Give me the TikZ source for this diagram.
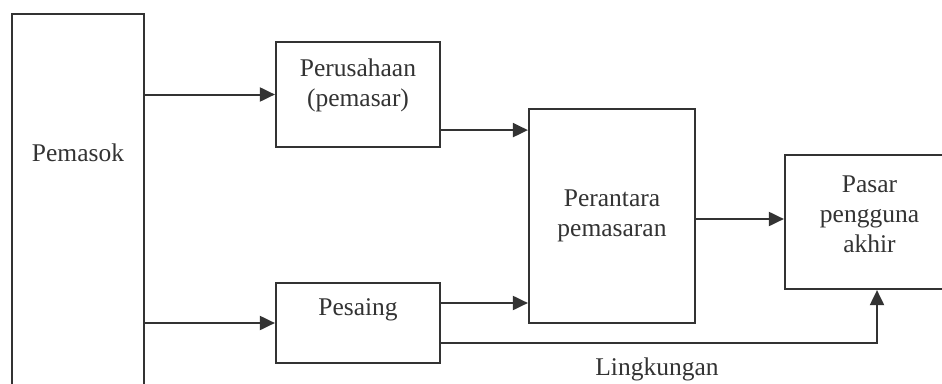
\documentclass[tikz,border=0pt]{standalone}
\usepackage{fontspec}
\setmainfont{Liberation Serif}
\usetikzlibrary{arrows.meta}
\definecolor{ink}{HTML}{333333}
\begin{document}
\begin{tikzpicture}[x=1pt,y=-1pt,
  box/.style={draw=ink,line width=2.2pt,minimum width=#1,inner sep=0pt},
  lbl/.style={text=ink,font=\fontsize{25.5}{30}\selectfont,align=center,inner sep=0pt},
  arr/.style={draw=ink,line width=2pt,-{Triangle[length=15pt,width=14pt]}},
  ln/.style={draw=ink,line width=2pt}]
\useasboundingbox (0,0) rectangle (942,383);
\fill[white] (0,0) rectangle (942,383);
\clip (0,0) rectangle (942,383);
% boxes
\node[box=132pt,minimum height=400pt] (pemasok) at (78,214) {};
\node[box=164pt,minimum height=105pt] (perus) at (358,94.5) {};
\node[box=164pt,minimum height=80pt] (pesaing) at (358,323) {};
\node[box=166pt,minimum height=214pt] (perantara) at (612,216) {};
\node[box=169pt,minimum height=134pt] (pasar) at (869.5,222) {};
% labels
\node[lbl] (pemasoklbl) at (78,153) {Pemasok};
\node[lbl] (peruslbl) at (358,85) {Perusahaan\\(pemasar)};
\node[lbl] (pesainglbl) at (358,310) {Pesaing};
\node[lbl] (perantaralbl) at (612,216) {Perantara\\pemasaran};
\node[lbl] (pasarlbl) at (869.5,214) {Pasar\\pengguna\\akhir};
\node[lbl] (lingk) at (657,369) {Lingkungan};
% connectors
\draw[arr] (pemasok.east |- perus.west) -- (perus.west);
\draw[arr] (pemasok.east |- pesaing.west) -- (pesaing.west);
\draw[arr] ([yshift=18pt]perus.south east) -- ([yshift=18pt]perus.south east -| perantara.west);
\draw[arr] ([yshift=20pt]pesaing.east) -- ([yshift=20pt]pesaing.east -| perantara.west);
\draw[arr] ([yshift=-3pt]perantara.east) -- ([yshift=-3pt]perantara.east -| pasar.west);
\coordinate (turn) at ([xshift=7.5pt]pasar.south);
\draw[arr] ([yshift=-20pt]pesaing.east) -| (turn);
\end{tikzpicture}
\end{document}
